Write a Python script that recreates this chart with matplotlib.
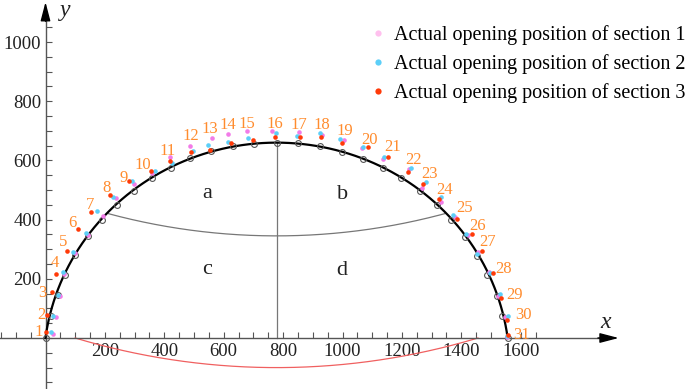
import numpy as np
import matplotlib
matplotlib.use("Agg")
import matplotlib.pyplot as plt
from matplotlib.ticker import FixedLocator, NullFormatter
from matplotlib.lines import Line2D

plt.rcParams['font.family'] = ['Liberation Serif', 'DejaVu Serif']

# ---------------- data ----------------
point_ids = list(range(1, 32))

design_x = [0, 18, 43, 66, 101, 143, 189, 240, 297, 357, 422, 488, 558, 631, 703, 778,
            851, 924, 997, 1069, 1136, 1198, 1260, 1317, 1365, 1412, 1454, 1488, 1520, 1538, 1556]
design_y = [0, 76, 144, 213, 282, 344, 398, 449, 497, 541, 576, 607, 631, 648, 656, 660,
            659, 649, 630, 606, 576, 539, 498, 449, 398, 340, 276, 212, 143, 73, 0]

sec1_x = [26, 35, 49, 62, 100, 144, 192, 238, 298, 360, 418, 487, 559, 616, 677, 762,
          855, 930, 1005, 1065, 1135, 1225, 1267, 1330, 1378, 1423, 1456, 1492, 1525, 1547, 1553]
sec1_y = [15, 70, 141, 215, 288, 347, 413, 472, 520, 557, 610, 650, 677, 688, 699, 698,
          695, 687, 668, 643, 606, 570, 507, 460, 410, 348, 289, 222, 142, 70, 5]

sec2_x = [17, 25, 42, 59, 91, 136, 175, 227, 292, 368, 427, 498, 546, 616, 681, 776,
          846, 925, 990, 1070, 1141, 1229, 1281, 1333, 1372, 1417, 1454, 1497, 1530, 1556, 1555]
sec2_y = [19, 75, 146, 224, 291, 355, 428, 478, 531, 564, 592, 633, 651, 661, 677, 694,
          682, 691, 672, 645, 610, 575, 528, 475, 415, 352, 283, 219, 150, 76, 8]

sec3_x = [0, 5, 23, 35, 73, 110, 152, 217, 282, 354, 418, 489, 554, 624, 697, 773,
          856, 926, 997, 1085, 1153, 1219, 1270, 1325, 1385, 1435, 1471, 1508, 1535, 1553, 1558]
sec3_y = [19, 79, 154, 217, 295, 367, 425, 484, 530, 564, 599, 627, 636, 658, 669, 680,
          680, 678, 659, 644, 611, 560, 521, 469, 402, 350, 294, 218, 134, 61, 11]

series_labels = ["Actual opening position of section 1",
                 "Actual opening position of section 2",
                 "Actual opening position of section 3"]

x_major = [200, 400, 600, 800, 1000, 1200, 1400, 1600]
y_major = [200, 400, 600, 800, 1000]
region_names = ["a", "b", "c", "d"]

# ---------------- layout / style ----------------
label_offsets = [(-7, 6), (-9, 1), (-16, 2), (-10, 12), (-12, 13), (-16, 13), (-12, 15),
                 (-10, 17), (-10, 13), (-9, 13), (-3, 17), (0, 22), (-1, 22), (-5, 21),
                 (-7, 20), (-2, 19), (1, 18), (2, 21), (3, 21), (7, 19), (10, 21), (12, 18),
                 (10, 17), (8, 15), (14, 12), (13, 11), (10, 14), (16, 6), (18, 1), (21, 1),
                 (14, 3)]
region_pos = [(543, 489), (1001, 486), (543, 230), (997, 228)]

c_pink, c_blue, c_red = '#F27BE8', '#5CCFF8', '#FF3A08'
c_pink_leg = '#FFC0EE'
c_orange = '#FF8C2E'
axis_c = '#555555'

fig = plt.figure(figsize=(6.85, 3.89), dpi=100)
ax = fig.add_axes([0, 0, 1, 1])
ax.set_xlim(-153.2, 2153.2)
ax.set_ylim(-172.3, 1141.9)

for s in ['top', 'right']:
    ax.spines[s].set_visible(False)
ax.spines['left'].set_position(('data', 0))
ax.spines['bottom'].set_position(('data', 0))
ax.spines['bottom'].set_bounds(-153, 1880)
ax.spines['left'].set_bounds(-172, 1090)
for s in ['left', 'bottom']:
    ax.spines[s].set_color(axis_c)
    ax.spines[s].set_linewidth(1.0)

ax.xaxis.set_major_locator(FixedLocator(x_major))
ax.xaxis.set_minor_locator(FixedLocator(np.arange(-150, 1651, 50)))
ax.yaxis.set_major_locator(FixedLocator(y_major))
ax.yaxis.set_minor_locator(FixedLocator(np.arange(-150, 1051, 50)))
ax.xaxis.set_minor_formatter(NullFormatter())
ax.yaxis.set_minor_formatter(NullFormatter())
ax.tick_params(which='both', direction='in', length=4.5, width=0.8, color=axis_c,
               labelsize=13.5, labelcolor='#222222')
ax.tick_params(axis='x', which='major', pad=3.5)
ax.tick_params(axis='y', which='major', pad=3)

# arrows
ax.annotate('', xy=(1930, 0), xytext=(1860, 0),
            arrowprops=dict(arrowstyle='-|>,head_length=1.15,head_width=0.3',
                            mutation_scale=10, color='black', lw=1.0, shrinkA=0, shrinkB=0))
ax.annotate('', xy=(0, 1135), xytext=(0, 1070),
            arrowprops=dict(arrowstyle='-|>,head_length=1.15,head_width=0.3',
                            mutation_scale=10, color='black', lw=1.0, shrinkA=0, shrinkB=0))
ax.text(1884, 54, 'x', fontsize=17, style='italic', ha='center', va='center', color='#222222')
ax.text(66, 1108, 'y', fontsize=17, style='italic', ha='center', va='center', color='#222222')

# design contour (ellipse with centre below the axis)
cx, cy, A, B = 778, -100, 785, 760
t0 = np.arcsin(-cy / B)
t = np.linspace(t0, np.pi - t0, 400)
ax.plot(cx + A * np.cos(t), cy + B * np.sin(t), color='black', lw=1.6, zorder=3)

# vertical centre line
ax.plot([cx, cx], [0, 660], color='#777777', lw=0.9, zorder=2)


def arc3(p0, pm, p1, n=200):
    # circle through three points
    (x1, y1), (x2, y2), (x3, y3) = p0, pm, p1
    d = 2 * (x1 * (y2 - y3) + x2 * (y3 - y1) + x3 * (y1 - y2))
    ux = ((x1**2 + y1**2) * (y2 - y3) + (x2**2 + y2**2) * (y3 - y1) + (x3**2 + y3**2) * (y1 - y2)) / d
    uy = ((x1**2 + y1**2) * (x3 - x2) + (x2**2 + y2**2) * (x1 - x3) + (x3**2 + y3**2) * (x2 - x1)) / d
    r = np.hypot(x1 - ux, y1 - uy)
    a0 = np.arctan2(y1 - uy, x1 - ux)
    a1 = np.arctan2(y3 - uy, x3 - ux)
    if abs(a1 - a0) > np.pi:
        if a1 < a0:
            a1 += 2 * np.pi
        else:
            a0 += 2 * np.pi
    aa = np.linspace(a0, a1, n)
    return ux + r * np.cos(aa), uy + r * np.sin(aa)


gx, gy = arc3((212, 420), (cx, 345), (1344, 420))
ax.plot(gx, gy, color='#777777', lw=0.9, zorder=2)
rx, ry = arc3((100, 0), (cx, -100), (1456, 0))
ax.plot(rx, ry, color='#F06060', lw=0.9, zorder=2)

# design points
ax.plot(design_x, design_y, 'o', ms=4.2, mfc='none', mec='#555555', mew=0.8, zorder=4)

# actual points
ms = 3.3
ax.plot(sec1_x, sec1_y, 'o', ms=ms, color=c_pink, mew=0, zorder=5)
ax.plot(sec2_x, sec2_y, 'o', ms=ms, color=c_blue, mew=0, zorder=6)
ax.plot(sec3_x, sec3_y, 'o', ms=ms, color=c_red, mew=0, zorder=7)

# point numbers
for pid, x, y, off in zip(point_ids, design_x, design_y, label_offsets):
    ax.annotate(str(pid), (x, y), xytext=off, textcoords='offset pixels',
                ha='center', va='center', color=c_orange, fontsize=12, zorder=8)

for name, (x, y) in zip(region_names, region_pos):
    ax.text(x, y, name, fontsize=16, ha='center', va='center', color='#222222')

handles = [Line2D([], [], ls='none', marker='o', ms=4.5, color=c, mew=0)
           for c in (c_pink_leg, c_blue, c_red)]
ax.legend(handles, series_labels, loc='upper left', bbox_to_anchor=(372 / 685, 1 - 25 / 389),
          frameon=False, fontsize=14.5, handlelength=0.6, handletextpad=0.5,
          labelspacing=0.45, borderpad=0, borderaxespad=0)

fig.savefig('out.png', dpi=100)
